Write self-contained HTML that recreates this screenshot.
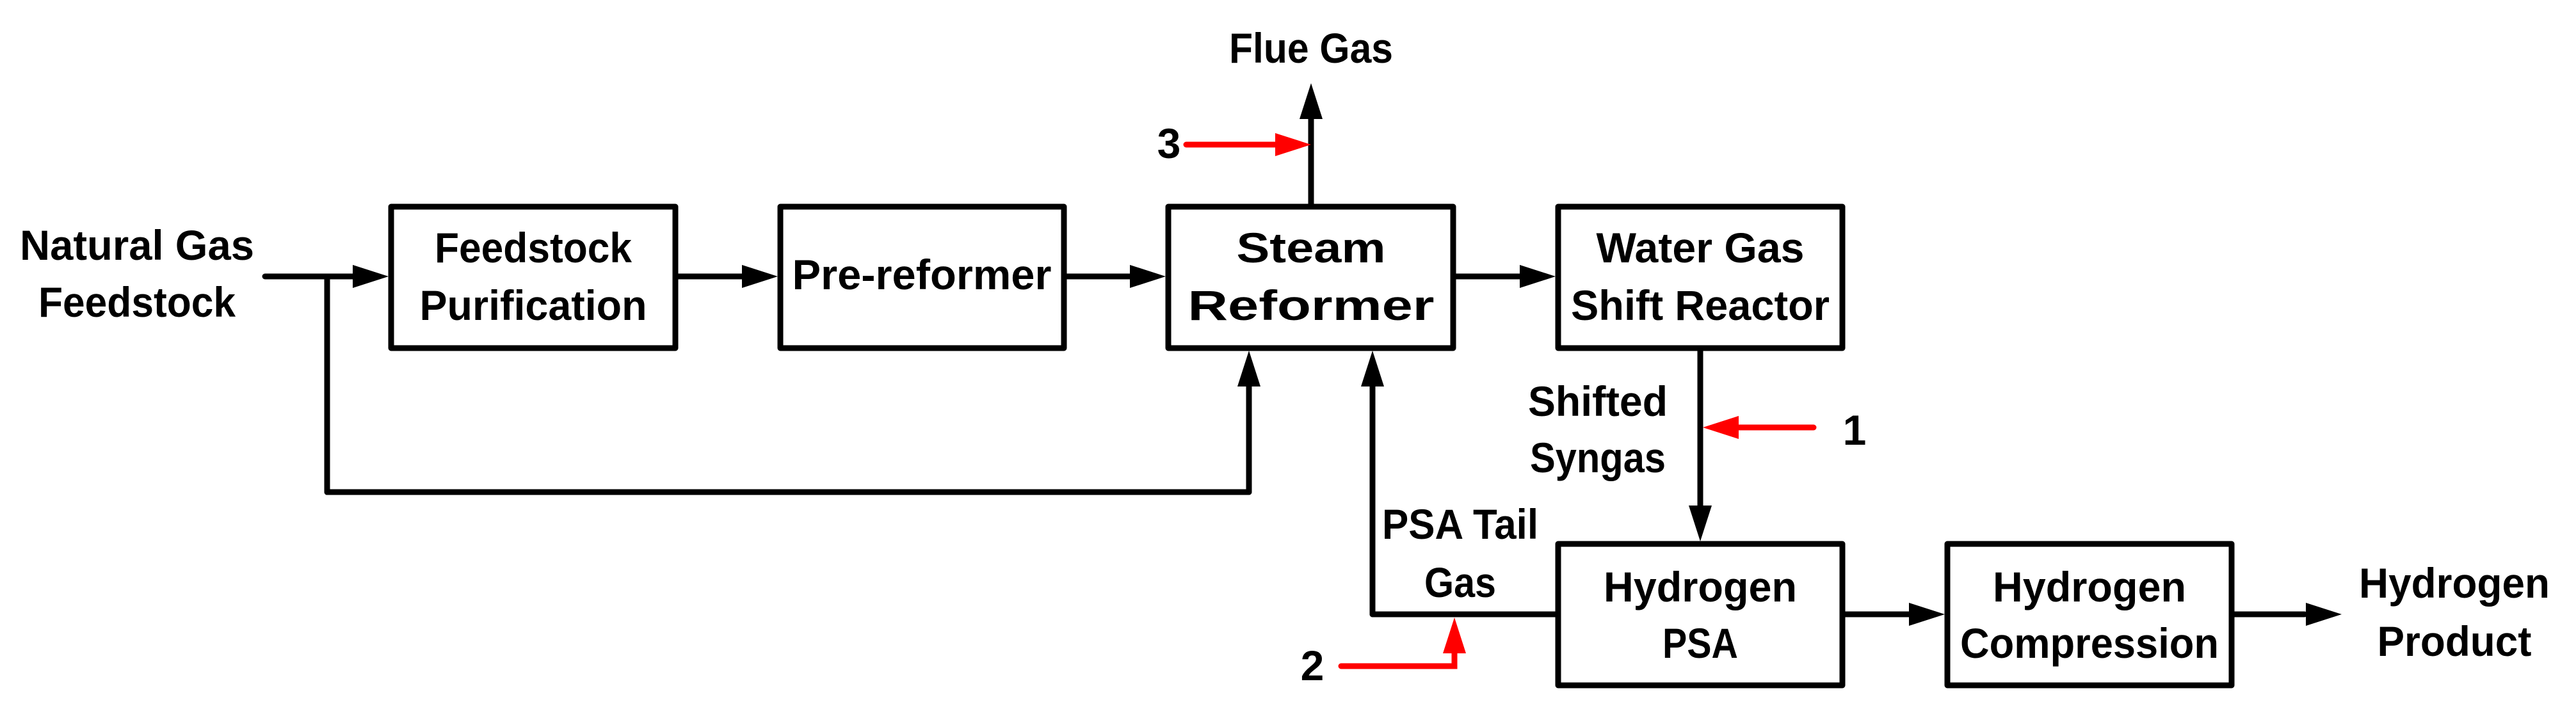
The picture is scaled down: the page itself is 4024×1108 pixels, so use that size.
<!DOCTYPE html>
<html><head><meta charset="utf-8"><style>html,body{margin:0;padding:0;background:#fff}svg{display:block}</style></head>
<body>
<svg width="4024" height="1108" viewBox="0 0 4024 1108" xmlns="http://www.w3.org/2000/svg" font-family="'Liberation Sans', sans-serif" font-weight="bold" font-size="66" text-anchor="middle">
<g fill="none" stroke="#000" stroke-width="9" stroke-linejoin="round" stroke-linecap="round">
<rect x="611" y="323" width="444" height="221"/>
<rect x="1219" y="323" width="443" height="221"/>
<rect x="1825" y="323" width="445" height="221"/>
<rect x="2434" y="323" width="444" height="221"/>
<rect x="2434" y="850" width="444" height="221"/>
<rect x="3042" y="850" width="444" height="221"/>
<!-- connectors -->
<line x1="414" y1="432" x2="560" y2="432"/>
<line x1="511" y1="432" x2="511" y2="769"/>
<line x1="511" y1="769" x2="1951" y2="769"/>
<line x1="1951" y1="769" x2="1951" y2="600"/>
<line x1="1055" y1="432" x2="1165" y2="432"/>
<line x1="1662" y1="432" x2="1770" y2="432"/>
<line x1="2270" y1="432" x2="2380" y2="432"/>
<line x1="2048" y1="323" x2="2048" y2="180"/>
<line x1="2656" y1="544" x2="2656" y2="795"/>
<line x1="2430" y1="960" x2="2144" y2="960"/>
<line x1="2144" y1="960" x2="2144" y2="600"/>
<line x1="2878" y1="960" x2="2985" y2="960"/>
<line x1="3486" y1="960" x2="3600" y2="960"/>
</g>
<g fill="#000">
<polygon points="607,432 551,414 551,450"/>
<polygon points="1215,432 1159,414 1159,450"/>
<polygon points="1821,432 1765,414 1765,450"/>
<polygon points="2430,432 2374,414 2374,450"/>
<polygon points="3038,960 2982,942 2982,978"/>
<polygon points="3658,960 3602,942 3602,978"/>
<polygon points="2048,130 2030,186 2066,186"/>
<polygon points="1951,548 1933,604 1969,604"/>
<polygon points="2144,548 2126,604 2162,604"/>
<polygon points="2656,846 2638,790 2674,790"/>
</g>
<g fill="none" stroke="#f00" stroke-width="9" stroke-linecap="round" stroke-linejoin="miter">
<line x1="1853" y1="226" x2="1995" y2="226"/>
<line x1="2833" y1="668" x2="2712" y2="668"/>
<polyline points="2095,1041 2272,1041 2272,1005"/>
</g>
<g fill="#f00">
<polygon points="2048,226 1992,208 1992,244"/>
<polygon points="2660,668 2716,650 2716,686"/>
<polygon points="2272,965 2254,1021 2290,1021"/>
</g>
<g fill="#000">
<text x="214" y="406" textLength="366" lengthAdjust="spacingAndGlyphs">Natural Gas</text>
<text x="214" y="495" textLength="308" lengthAdjust="spacingAndGlyphs">Feedstock</text>
<text x="833" y="410" textLength="308" lengthAdjust="spacingAndGlyphs">Feedstock</text>
<text x="833" y="500" textLength="355" lengthAdjust="spacingAndGlyphs">Purification</text>
<text x="1440" y="452" textLength="405" lengthAdjust="spacingAndGlyphs">Pre-reformer</text>
<text x="2048" y="410" textLength="233" lengthAdjust="spacingAndGlyphs">Steam</text>
<text x="2048" y="500" textLength="385" lengthAdjust="spacingAndGlyphs">Reformer</text>
<text x="2656" y="410" textLength="325" lengthAdjust="spacingAndGlyphs">Water Gas</text>
<text x="2656" y="500" textLength="404" lengthAdjust="spacingAndGlyphs">Shift Reactor</text>
<text x="2496" y="650" textLength="218" lengthAdjust="spacingAndGlyphs">Shifted</text>
<text x="2496" y="738" textLength="212" lengthAdjust="spacingAndGlyphs">Syngas</text>
<text x="2281" y="842" textLength="244" lengthAdjust="spacingAndGlyphs">PSA Tail</text>
<text x="2281" y="933" textLength="112" lengthAdjust="spacingAndGlyphs">Gas</text>
<text x="2656" y="940" textLength="302" lengthAdjust="spacingAndGlyphs">Hydrogen</text>
<text x="2656" y="1028" textLength="118" lengthAdjust="spacingAndGlyphs">PSA</text>
<text x="3264" y="940" textLength="302" lengthAdjust="spacingAndGlyphs">Hydrogen</text>
<text x="3264" y="1028" textLength="404" lengthAdjust="spacingAndGlyphs">Compression</text>
<text x="3834" y="934" textLength="298" lengthAdjust="spacingAndGlyphs">Hydrogen</text>
<text x="3834" y="1025" textLength="241" lengthAdjust="spacingAndGlyphs">Product</text>
<text x="2048" y="98" textLength="256" lengthAdjust="spacingAndGlyphs">Flue Gas</text>
<text x="1826" y="247">3</text>
<text x="2897" y="695">1</text>
<text x="2050" y="1063">2</text>
</g>
</svg>
</body></html>
